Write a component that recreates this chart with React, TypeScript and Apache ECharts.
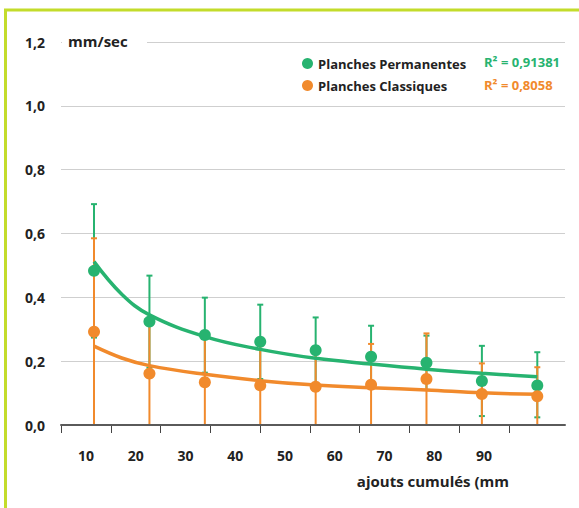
import React, { useEffect, useRef } from "react";
import * as echarts from "echarts";

const categories = ["10", "20", "30", "40", "50", "60", "70", "80", "90"];
const xValues = [10, 20, 30, 40, 50, 60, 70, 80, 90];

const permMeans = [0.483, 0.324, 0.282, 0.261, 0.234, 0.214, 0.195, 0.138, 0.124];
const permLow = [0.274, 0.18, 0.164, 0.144, 0.131, 0.117, 0.11, 0.028, 0.024];
const permHigh = [0.692, 0.468, 0.399, 0.377, 0.337, 0.311, 0.28, 0.248, 0.228];

const classMeans = [0.292, 0.161, 0.134, 0.124, 0.12, 0.126, 0.144, 0.097, 0.09];
const classLow = [0, 0, 0, 0, 0, 0, 0, 0, 0];
const classHigh = [0.585, 0.32, 0.27, 0.25, 0.24, 0.254, 0.287, 0.193, 0.181];

const trendX = [10, 15, 20, 30, 40, 50, 60, 70, 80, 90];
const permTrend = [0.512, 0.41, 0.345, 0.277, 0.237, 0.209, 0.191, 0.175, 0.162, 0.151];
const classTrend = [0.247, 0.21, 0.186, 0.159, 0.139, 0.125, 0.117, 0.11, 0.101, 0.096];

const yTicks = [0, 0.2, 0.4, 0.6, 0.8, 1.0, 1.2];

const GREEN = "#27b370";
const ORANGE = "#f18a2c";
const FONT = "Open Sans";

function errorBars(color: string, low: number[], high: number[]) {
  return {
    type: "custom",
    xAxisIndex: 0,
    yAxisIndex: 0,
    data: xValues.map((x, i) => [x, low[i], high[i]]),
    renderItem: (params: any, api: any) => {
      const x = api.value(0);
      const lo = api.coord([x, api.value(1)]);
      const hi = api.coord([x, api.value(2)]);
      const w = 3;
      const style = { stroke: color, lineWidth: 2 };
      return {
        type: "group",
        children: [
          { type: "line", shape: { x1: lo[0], y1: lo[1], x2: hi[0], y2: hi[1] }, style },
          { type: "line", shape: { x1: hi[0] - w, y1: hi[1], x2: hi[0] + w, y2: hi[1] }, style },
          { type: "line", shape: { x1: lo[0] - w, y1: lo[1], x2: lo[0] + w, y2: lo[1] }, style },
        ],
      };
    },
    z: 2,
    silent: true,
  };
}

export default function App() {
  const ref = useRef<HTMLDivElement>(null);
  useEffect(() => {
    if (!ref.current) return;
    const chart = echarts.init(ref.current, null, { renderer: "svg" });
    chart.setOption({
      animation: false,
      backgroundColor: "#ffffff",
      textStyle: { fontFamily: FONT },
      grid: [
        { left: 61, right: 14, top: 42, bottom: 83 },
        { left: 61, right: 70, top: 42, bottom: 83 },
      ],
      xAxis: [
        {
          type: "value",
          gridIndex: 0,
          min: 4.04,
          max: 95,
          axisLine: { show: true, lineStyle: { color: "#5a5a5a", width: 2 } },
          axisTick: { show: false },
          axisLabel: { show: false },
          splitLine: { show: false },
          z: 10,
        },
        {
          type: "category",
          gridIndex: 1,
          data: categories,
          boundaryGap: true,
          offset: 5,
          axisLine: { show: false },
          axisTick: { show: true, length: 8, lineStyle: { color: "#444", width: 1 } },
          axisLabel: {
            margin: 18,
            color: "#222",
            fontSize: 14,
            fontWeight: "bold",
            fontFamily: FONT,
          },
          splitLine: { show: false },
          name: "ajouts cumulés (mm",
          nameLocation: "end",
          nameGap: 0,
          nameTextStyle: {
            color: "#222",
            fontSize: 15,
            fontWeight: "bold",
            fontFamily: FONT,
            align: "right",
            verticalAlign: "top",
            padding: [48, 0, 0, 0],
          },
        },
      ],
      yAxis: [
        {
          type: "value",
          gridIndex: 0,
          min: 0,
          max: 1.2,
          interval: 0.2,
          axisLine: { show: false },
          axisTick: { show: false },
          axisLabel: {
            margin: 16,
            color: "#222",
            fontSize: 14,
            fontWeight: "bold",
            fontFamily: FONT,
            formatter: (v: number) =>
              yTicks.some((t) => Math.abs(t - v) < 1e-6) ? v.toFixed(1).replace(".", ",") : "",
          },
          splitLine: { show: true, lineStyle: { color: "#cfcfcf", width: 1 } },
        },
        {
          type: "value",
          gridIndex: 1,
          min: 0,
          max: 1.2,
          show: false,
          splitLine: { show: false },
        },
      ],
      legend: {
        orient: "vertical",
        left: 297,
        top: 52,
        itemWidth: 11,
        itemHeight: 11,
        itemGap: 9,
        icon: "circle",
        textStyle: { color: "#222", fontSize: 13, fontWeight: "bold", fontFamily: FONT },
        data: ["Planches Permanentes", "Planches Classiques"],
      },
      series: [
        errorBars(GREEN, permLow, permHigh),
        errorBars(ORANGE, classLow, classHigh),
        {
          type: "line",
          name: "trend perm",
          data: trendX.map((x, i) => [x, permTrend[i]]),
          smooth: 0.4,
          showSymbol: false,
          lineStyle: { color: GREEN, width: 3.5 },
          z: 3,
          silent: true,
        },
        {
          type: "line",
          name: "trend class",
          data: trendX.map((x, i) => [x, classTrend[i]]),
          smooth: 0.4,
          showSymbol: false,
          lineStyle: { color: ORANGE, width: 3.5 },
          z: 3,
          silent: true,
        },
        {
          type: "scatter",
          name: "Planches Permanentes",
          data: xValues.map((x, i) => [x, permMeans[i]]),
          symbolSize: 12,
          itemStyle: { color: GREEN, opacity: 1 },
          z: 4,
        },
        {
          type: "scatter",
          name: "Planches Classiques",
          data: xValues.map((x, i) => [x, classMeans[i]]),
          symbolSize: 12,
          itemStyle: { color: ORANGE, opacity: 1 },
          z: 5,
        },
      ],
      graphic: [
        {
          type: "rect",
          shape: { x: 62, y: 35, width: 85, height: 14 },
          style: { fill: "#ffffff" },
          z: 100,
        },
        {
          type: "text",
          x: 68,
          y: 41,
          style: {
            text: "mm/sec",
            fill: "#222",
            font: `bold 15px ${FONT}`,
            verticalAlign: "middle",
          },
          z: 101,
        },
        {
          type: "text",
          x: 484,
          y: 62,
          style: {
            text: "R² = 0,91381",
            fill: GREEN,
            font: `bold 13px ${FONT}`,
            verticalAlign: "middle",
          },
          z: 101,
        },
        {
          type: "text",
          x: 484,
          y: 85,
          style: {
            text: "R² = 0,8058",
            fill: ORANGE,
            font: `bold 13px ${FONT}`,
            verticalAlign: "middle",
          },
          z: 101,
        },
        {
          type: "line",
          shape: { x1: 4, y1: 10, x2: 579, y2: 10 },
          style: { stroke: "#c3dc2b", lineWidth: 3 },
          z: 101,
        },
        {
          type: "line",
          shape: { x1: 5.5, y1: 10, x2: 5.5, y2: 508 },
          style: { stroke: "#c3dc2b", lineWidth: 3 },
          z: 101,
        },
      ],
    });
    return () => chart.dispose();
  }, []);
  return (
    <div
      ref={ref}
      style={{ position: "fixed", left: 0, top: 0, width: 579, height: 508 }}
    />
  );
}
